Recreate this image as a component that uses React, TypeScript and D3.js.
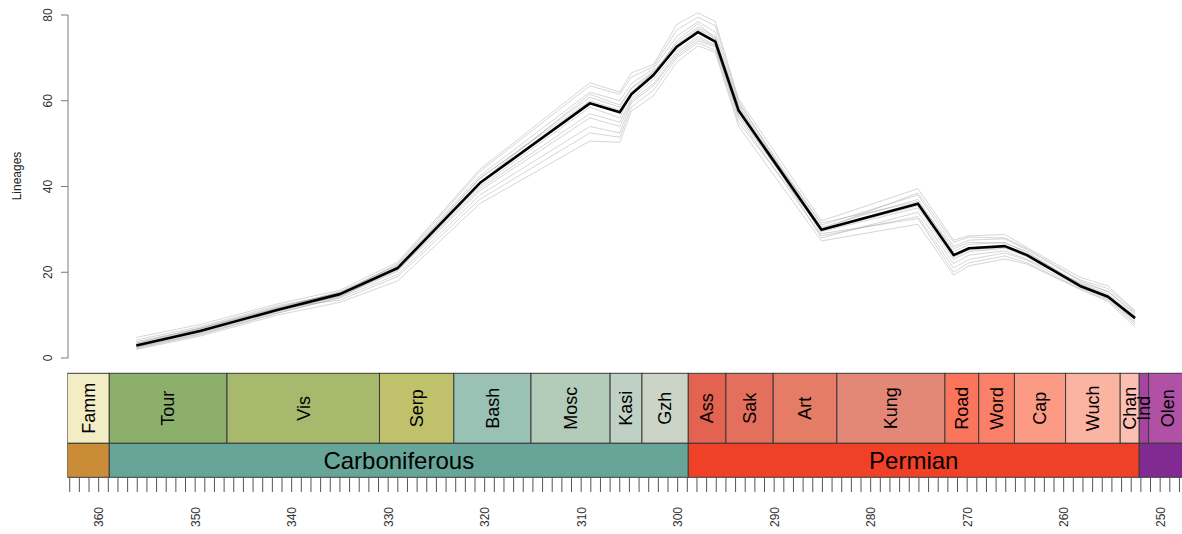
import React from "react";
import * as d3 from "d3";

// ---- Data ----
const TIMES = [356.1, 349.5, 341.5, 335.0, 329.0, 320.5, 309.1, 306.0, 304.8, 302.5, 300.1, 297.9, 296.1, 293.7, 285.1, 275.1, 271.4, 269.8, 266.1, 263.8, 258.3, 255.4, 252.6];
const MEAN_LINEAGES = [2.9, 6.3, 11.2, 14.9, 21.0, 40.8, 59.4, 57.3, 61.5, 66.0, 72.6, 76.0, 73.8, 57.8, 29.9, 36.0, 24.0, 25.6, 26.1, 24.0, 16.8, 14.3, 9.3];

const REP_A = [4.8, 7.8, 12.6, 15.8, 22.4, 44.0, 64.2, 62.0, 66.5, 68.5, 77.8, 80.5, 78.5, 60.5, 32.0, 39.5, 27.5, 28.5, 28.8, 25.8, 18.8, 16.8, 11.0];
const REP_B = [2.0, 5.1, 10.0, 13.0, 18.0, 36.0, 50.6, 50.3, 57.6, 61.2, 69.0, 72.8, 71.3, 54.1, 27.3, 31.2, 19.3, 21.5, 23.1, 21.9, 16.0, 13.2, 7.2];
const REP_C = [3.5, 7.0, 11.9, 15.2, 21.8, 42.5, 62.0, 60.0, 64.0, 67.5, 75.0, 78.5, 76.0, 59.5, 31.0, 38.0, 26.0, 27.5, 27.8, 25.2, 18.0, 15.5, 10.2];
const REP_D = [2.4, 5.6, 10.5, 14.0, 19.5, 38.0, 54.0, 52.5, 59.5, 63.5, 70.5, 74.0, 72.5, 56.0, 28.5, 33.0, 21.0, 23.0, 24.5, 22.8, 16.5, 13.8, 8.2];
const REP_E = [3.2, 6.6, 11.5, 15.5, 21.5, 41.8, 60.8, 58.5, 62.8, 66.5, 73.5, 77.2, 75.0, 58.8, 30.5, 37.0, 24.8, 26.5, 27.0, 24.5, 17.4, 14.9, 9.8];
const REP_F = [2.7, 6.0, 11.0, 14.5, 20.5, 39.5, 57.0, 55.0, 60.5, 65.0, 71.5, 75.0, 73.0, 57.0, 29.5, 35.0, 23.0, 24.8, 25.6, 23.6, 17.0, 14.5, 9.0];
const REP_G = [4.2, 7.3, 12.2, 15.0, 20.8, 40.0, 58.5, 56.0, 61.8, 66.0, 74.0, 78.0, 74.5, 59.0, 28.0, 34.0, 22.0, 24.0, 25.0, 23.0, 17.6, 15.5, 10.5];
const REP_H = [2.2, 5.4, 10.4, 14.2, 21.0, 41.0, 61.5, 59.0, 63.0, 67.0, 72.0, 76.5, 74.0, 57.5, 31.5, 36.5, 25.5, 27.0, 26.8, 24.8, 16.9, 14.0, 8.5];
const REP_I = [3.8, 6.9, 11.6, 13.5, 19.0, 37.0, 52.5, 51.5, 58.5, 62.5, 70.0, 73.5, 71.8, 55.0, 30.0, 38.5, 27.0, 28.2, 28.0, 25.5, 18.2, 16.2, 10.8];
const REP_J = [3.0, 6.2, 11.3, 15.0, 22.0, 43.5, 63.5, 61.5, 65.5, 68.0, 76.5, 79.5, 77.5, 60.0, 29.0, 32.5, 20.0, 22.2, 23.8, 22.2, 16.2, 13.5, 7.8];
const REP_K = [2.5, 5.8, 10.8, 14.4, 20.2, 39.0, 56.0, 54.0, 60.0, 64.0, 71.0, 74.5, 72.8, 56.5, 30.2, 36.2, 24.0, 25.5, 26.2, 24.0, 17.2, 14.6, 9.3];
const REP_L = [3.4, 6.8, 11.7, 15.3, 21.2, 42.0, 60.0, 57.8, 62.0, 66.8, 73.0, 76.8, 74.5, 58.2, 29.8, 35.5, 23.5, 25.2, 25.8, 23.8, 16.6, 14.1, 9.6];
const REPLICATES = [REP_A, REP_B, REP_C, REP_D, REP_E, REP_F, REP_G, REP_H, REP_I, REP_J, REP_K, REP_L];

const STAGE_NAMES = ["Famm", "Tour", "Vis", "Serp", "Bash", "Mosc", "Kasi", "Gzh", "Ass", "Sak", "Art", "Kung", "Road", "Word", "Cap", "Wuch", "Chan", "Ind", "Olen"];
const STAGE_START = [372.2, 358.9, 346.7, 330.9, 323.2, 315.2, 307.0, 303.7, 298.9, 295.0, 290.1, 283.5, 272.3, 268.8, 265.1, 259.8, 254.14, 252.17, 251.2];
const STAGE_END = [358.9, 346.7, 330.9, 323.2, 315.2, 307.0, 303.7, 298.9, 295.0, 290.1, 283.5, 272.3, 268.8, 265.1, 259.8, 254.14, 252.17, 251.2, 247.2];
const STAGE_COLORS = ["#F2EDC5", "#8CB06C", "#A6B96C", "#BFC26B", "#99C2B5", "#B3CBB9", "#BFD0C5", "#CCD4C7", "#E36350", "#E46F5C", "#E47C66", "#E38776", "#FB745C", "#FB8069", "#FB9A85", "#FCB4A2", "#FCC0B2", "#A4469F", "#B051A5"];

const PERIOD_NAMES = ["", "Carboniferous", "Permian", ""];
const PERIOD_START = [372.2, 358.9, 298.9, 252.17];
const PERIOD_END = [358.9, 298.9, 252.17, 247.2];
const PERIOD_COLORS = ["#CB8C37", "#67A599", "#F04028", "#812B92"];

const Y_TICKS = [0, 20, 40, 60, 80];
const X_MINOR_TICKS = d3.range(363, 247, -1);
const X_LABELS = d3.range(360, 249, -10);

const W = 1182;
const H = 534;

export default function App() {
  const x = d3.scaleLinear().domain([363.25, 247.2]).range([67.3, 67.3 + 116.05 * 9.65]);
  const y = d3.scaleLinear().domain([0, 80]).range([358, 15]);
  const line = d3
    .line<number>()
    .x((_, i) => x(TIMES[i]))
    .y((d) => y(d));

  const xMin = 363.25;
  const xMax = 247.2;
  const clipMid = (a: number, b: number) => (x(Math.min(a, xMin)) + x(Math.max(b, xMax))) / 2;

  const stageTop = 373.3;
  const stageBot = 443.3;
  const perBot = 477.3;
  const font = "Liberation Sans, Arial, Helvetica, sans-serif";

  return (
    <svg
      width={W}
      height={H}
      style={{ position: "absolute", left: 0, top: 0, background: "#fff" }}
      fontFamily={font}
    >
      <defs>
        <clipPath id="plotclip">
          <rect x={x(xMin)} y={0} width={W - x(xMin)} height={H} />
        </clipPath>
      </defs>

      {/* y axis */}
      <line x1={68} x2={68} y1={y(0)} y2={y(80)} stroke="#7a7a7a" strokeWidth={1} />
      {Y_TICKS.map((t) => (
        <g key={t}>
          <line x1={61} x2={68} y1={y(t)} y2={y(t)} stroke="#7a7a7a" strokeWidth={1} />
          <text
            transform={`translate(51.5,${y(t)}) rotate(-90)`}
            textAnchor="middle"
            fontSize={12}
            fill="#333"
          >
            {t}
          </text>
        </g>
      ))}
      <text transform={`translate(21,176) rotate(-90)`} textAnchor="middle" fontSize={12} fill="#222">
        Lineages
      </text>

      {/* replicate lines */}
      <g clipPath="url(#plotclip)">
        {REPLICATES.map((r, i) => (
          <path key={i} d={line(r) || ""} fill="none" stroke="#8a8a8a" strokeOpacity={0.35} strokeWidth={1} />
        ))}
        <path d={line(MEAN_LINEAGES) || ""} fill="none" stroke="#000" strokeWidth={2.6} strokeLinejoin="round" />
      </g>

      {/* timescale */}
      <g clipPath="url(#plotclip)">
        {STAGE_NAMES.map((n, i) => {
          const x0 = x(Math.min(STAGE_START[i], xMin));
          const x1 = x(STAGE_END[i]);
          return (
            <rect
              key={n}
              x={x0}
              y={stageTop}
              width={x1 - x0}
              height={stageBot - stageTop}
              fill={STAGE_COLORS[i]}
              stroke="#3a3a3a"
              strokeWidth={1}
            />
          );
        })}
        {STAGE_NAMES.map((n, i) => (
          <text
            key={n + "l"}
            transform={`translate(${clipMid(STAGE_START[i], STAGE_END[i])},${(stageTop + stageBot) / 2}) rotate(-90)`}
            textAnchor="middle"
            dy="0.35em"
            fontSize={18}
            fill="#000"
          >
            {n}
          </text>
        ))}
        {PERIOD_NAMES.map((n, i) => {
          const x0 = x(Math.min(PERIOD_START[i], xMin));
          const x1 = x(PERIOD_END[i]);
          return (
            <rect
              key={"p" + i}
              x={x0}
              y={stageBot}
              width={x1 - x0}
              height={perBot - stageBot}
              fill={PERIOD_COLORS[i]}
              stroke="#3a3a3a"
              strokeWidth={1}
            />
          );
        })}
        {PERIOD_NAMES.map((n, i) =>
          n ? (
            <text
              key={"pl" + i}
              x={clipMid(PERIOD_START[i], PERIOD_END[i])}
              y={(stageBot + perBot) / 2}
              dy="0.35em"
              textAnchor="middle"
              fontSize={24}
              fill="#000"
            >
              {n}
            </text>
          ) : null
        )}
      </g>

      {/* bottom axis */}
      {X_MINOR_TICKS.map((t) => (
        <line key={t} x1={x(t)} x2={x(t)} y1={478} y2={492} stroke="#555" strokeWidth={1} />
      ))}
      {X_LABELS.map((t) => (
        <text
          key={"xl" + t}
          transform={`translate(${x(t) + 4.5},${517}) rotate(-90)`}
          textAnchor="middle"
          fontSize={12}
          fill="#333"
        >
          {t}
        </text>
      ))}
    </svg>
  );
}
